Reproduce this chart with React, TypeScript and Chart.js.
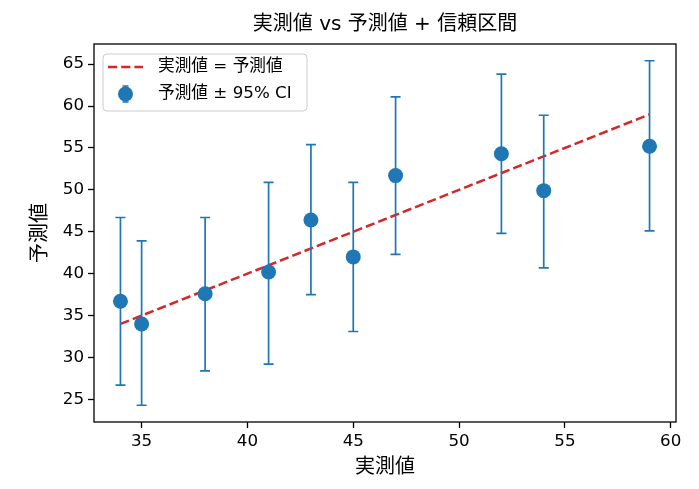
import { useEffect, useRef } from "react";
import { Chart, registerables, type Plugin } from "chart.js";

Chart.register(...registerables);

// 実測値 (x) と予測値 (y)、95% 信頼区間
const actual = [34, 35, 38, 41, 43, 45, 47, 52, 54, 59];
const predicted = [36.7, 34.0, 37.6, 40.2, 46.4, 42.0, 51.7, 54.3, 49.9, 55.2];
const ciLower = [26.7, 24.3, 28.4, 29.2, 37.5, 33.1, 42.3, 44.8, 40.7, 45.1];
const ciUpper = [46.7, 43.9, 46.7, 50.9, 55.4, 50.9, 61.1, 63.8, 58.9, 65.4];
const identityLine = [34, 59];

const xTicks = [35, 40, 45, 50, 55, 60];
const yTicks = [25, 30, 35, 40, 45, 50, 55, 60, 65];
const xRange = [32.75, 60.25];
const yRange = [22.3, 67.4];

const TITLE = "実測値 vs 予測値 + 信頼区間";
const X_LABEL = "実測値";
const Y_LABEL = "予測値";
const LEGEND_LINE = "実測値 = 予測値";
const LEGEND_POINTS = "予測値 ± 95% CI";

const BLUE = "#1f77b4";
const RED = "#d62728";
const FONT = "'DejaVu Sans', 'Noto Sans CJK JP', sans-serif";
const TICK_SIZE = 16.7;
const LABEL_SIZE = 20;
const DASH = [9.2, 4];
const CAP = 5;

const errorBarPlugin: Plugin<"scatter"> = {
  id: "errorBars",
  beforeDatasetDraw(chart, args) {
    if (args.index !== 1) return;
    const { ctx } = chart;
    const x = chart.scales.x;
    const y = chart.scales.y;
    ctx.save();
    ctx.strokeStyle = BLUE;
    ctx.lineWidth = 1.7;
    actual.forEach((a, i) => {
      const px = x.getPixelForValue(a);
      const top = y.getPixelForValue(ciUpper[i]);
      const bot = y.getPixelForValue(ciLower[i]);
      ctx.beginPath();
      ctx.moveTo(px, top);
      ctx.lineTo(px, bot);
      ctx.moveTo(px - CAP, top);
      ctx.lineTo(px + CAP, top);
      ctx.moveTo(px - CAP, bot);
      ctx.lineTo(px + CAP, bot);
      ctx.stroke();
    });
    ctx.restore();
  },
};

const framePlugin: Plugin<"scatter"> = {
  id: "frame",
  afterDatasetsDraw(chart) {
    const { ctx, chartArea: a } = chart;
    ctx.save();
    ctx.strokeStyle = "#000";
    ctx.lineWidth = 1.3;
    ctx.strokeRect(a.left, a.top, a.right - a.left, a.bottom - a.top);
    ctx.restore();
  },
};

const titlePlugin: Plugin<"scatter"> = {
  id: "axesTitle",
  afterDraw(chart) {
    const { ctx, chartArea: a } = chart;
    ctx.save();
    ctx.fillStyle = "#000";
    ctx.font = `${LABEL_SIZE}px ${FONT}`;
    ctx.textAlign = "center";
    ctx.textBaseline = "middle";
    ctx.fillText(TITLE, (a.left + a.right) / 2, 25);
    ctx.restore();
  },
};

const legendPlugin: Plugin<"scatter"> = {
  id: "boxLegend",
  afterDraw(chart) {
    const { ctx, chartArea: a } = chart;
    const bx = a.left + 9;
    const by = a.top + 10;
    const bw = 204;
    const bh = 57;
    ctx.save();
    ctx.beginPath();
    ctx.roundRect(bx, by, bw, bh, 4);
    ctx.fillStyle = "rgba(255,255,255,0.8)";
    ctx.fill();
    ctx.strokeStyle = "#cccccc";
    ctx.lineWidth = 1;
    ctx.stroke();

    const row1 = by + 13;
    const row2 = by + 40;
    const hx0 = bx + 5;
    const hx1 = bx + 40;
    const hc = (hx0 + hx1) / 2;

    ctx.strokeStyle = RED;
    ctx.lineWidth = 2.5;
    ctx.setLineDash(DASH);
    ctx.beginPath();
    ctx.moveTo(hx0, row1);
    ctx.lineTo(hx1, row1);
    ctx.stroke();
    ctx.setLineDash([]);

    ctx.strokeStyle = BLUE;
    ctx.lineWidth = 1.7;
    ctx.beginPath();
    ctx.moveTo(hc, row2 - 8);
    ctx.lineTo(hc, row2 + 8);
    ctx.moveTo(hc - 3, row2 - 8);
    ctx.lineTo(hc + 3, row2 - 8);
    ctx.moveTo(hc - 3, row2 + 8);
    ctx.lineTo(hc + 3, row2 + 8);
    ctx.stroke();
    ctx.fillStyle = BLUE;
    ctx.beginPath();
    ctx.arc(hc, row2, 7.5, 0, Math.PI * 2);
    ctx.fill();

    ctx.fillStyle = "#000";
    ctx.font = `${TICK_SIZE}px ${FONT}`;
    ctx.textBaseline = "middle";
    ctx.fillText(LEGEND_LINE, bx + 55, row1);
    ctx.fillText(LEGEND_POINTS, bx + 55, row2);
    ctx.restore();
  },
};

export default function App() {
  const canvasRef = useRef<HTMLCanvasElement>(null);
  const chartRef = useRef<Chart<"scatter"> | null>(null);

  useEffect(() => {
    document.body.style.margin = "0";
    if (!canvasRef.current) return;

    const tickFont = { family: FONT, size: TICK_SIZE };
    const gridOpts = {
      display: true,
      drawOnChartArea: false,
      drawTicks: true,
      tickLength: 6,
      tickWidth: 1.3,
      tickColor: "#000",
    };

    chartRef.current = new Chart(canvasRef.current, {
      type: "scatter",
      data: {
        datasets: [
          {
            type: "line",
            label: LEGEND_LINE,
            data: identityLine.map((v) => ({ x: v, y: v })),
            borderColor: RED,
            borderWidth: 2.5,
            borderDash: DASH,
            pointRadius: 0,
            fill: false,
            order: 2,
          },
          {
            label: LEGEND_POINTS,
            data: actual.map((a, i) => ({ x: a, y: predicted[i] })),
            backgroundColor: BLUE,
            borderColor: BLUE,
            borderWidth: 0,
            pointRadius: 7.5,
            order: 1,
          },
        ],
      },
      options: {
        animation: false,
        responsive: true,
        maintainAspectRatio: false,
        layout: { padding: { top: 44, right: 23, bottom: 0, left: 0 } },
        plugins: {
          legend: { display: false },
          tooltip: { enabled: false },
          title: { display: false },
        },
        scales: {
          x: {
            type: "linear",
            min: xRange[0],
            max: xRange[1],
            afterBuildTicks: (s) => {
              s.ticks = xTicks.map((v) => ({ value: v }));
            },
            afterFit: (s) => {
              s.height = 67;
            },
            grid: gridOpts,
            border: { display: false },
            ticks: { font: tickFont, color: "#000", padding: 4, maxRotation: 0 },
            title: {
              display: true,
              text: X_LABEL,
              font: { family: FONT, size: LABEL_SIZE },
              color: "#000",
              padding: { top: 0, bottom: 9 },
            },
          },
          y: {
            type: "linear",
            min: yRange[0],
            max: yRange[1],
            afterBuildTicks: (s) => {
              s.ticks = yTicks.map((v) => ({ value: v }));
            },
            afterFit: (s) => {
              s.width = 94;
            },
            grid: gridOpts,
            border: { display: false },
            ticks: { font: tickFont, color: "#000", padding: 4 },
            title: {
              display: true,
              text: Y_LABEL,
              font: { family: FONT, size: LABEL_SIZE },
              color: "#000",
              padding: { top: 29, bottom: 0 },
            },
          },
        },
      },
      plugins: [errorBarPlugin, framePlugin, titlePlugin, legendPlugin],
    });

    return () => {
      chartRef.current?.destroy();
    };
  }, []);

  return (
    <div style={{ width: 699, height: 489, position: "relative", background: "#fff" }}>
      <canvas ref={canvasRef} />
    </div>
  );
}
